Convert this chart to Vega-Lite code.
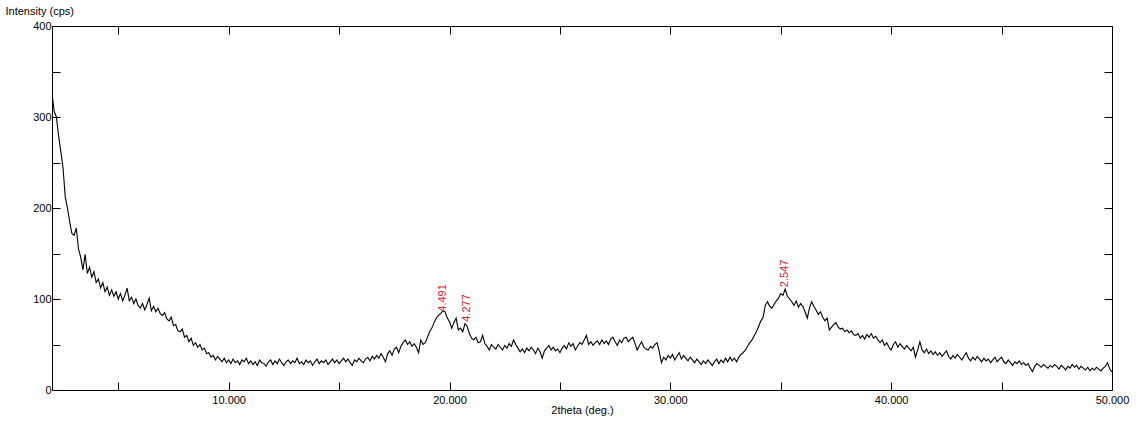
{
"$schema": "https://vega.github.io/schema/vega-lite/v6.json",
"width": 1060, "height": 364,
"autosize": {"type": "none"},
"padding": {"left": 52, "top": 26, "right": 26, "bottom": 33},
"background": "white",
"config": {
  "view": {"stroke": "black", "strokeWidth": 1},
  "axis": {"labelFont": "Liberation Sans", "titleFont": "Liberation Sans", "labelFontSize": 11, "titleFontSize": 11, "labelColor": "black", "titleColor": "black", "titleFontWeight": "normal", "grid": false, "domain": false, "tickColor": "black", "tickWidth": 1, "labelOverlap": false, "labelFlush": false}
},
"datasets": {
"xrd": [
{"t":2.0,"i":326},{"t":2.1,"i":306},{"t":2.2,"i":300},{"t":2.3,"i":279},{"t":2.4,"i":262},{"t":2.5,"i":244},{"t":2.6,"i":212},{"t":2.7,"i":200},{"t":2.8,"i":185},{"t":2.9,"i":172},
{"t":3.0,"i":170},{"t":3.1,"i":178},{"t":3.2,"i":155},{"t":3.3,"i":146},{"t":3.4,"i":132},{"t":3.5,"i":149},{"t":3.6,"i":128},{"t":3.7,"i":135},{"t":3.8,"i":124},{"t":3.9,"i":130},
{"t":4.0,"i":118},{"t":4.1,"i":122},{"t":4.2,"i":112},{"t":4.3,"i":118},{"t":4.4,"i":108},{"t":4.5,"i":113},{"t":4.6,"i":104},{"t":4.7,"i":110},{"t":4.8,"i":103},{"t":4.9,"i":108},
{"t":5.0,"i":100},{"t":5.1,"i":106},{"t":5.2,"i":98},{"t":5.3,"i":104},{"t":5.4,"i":112},{"t":5.5,"i":98},{"t":5.6,"i":102},{"t":5.7,"i":95},{"t":5.8,"i":100},{"t":5.9,"i":93},
{"t":6.0,"i":90},{"t":6.1,"i":95},{"t":6.2,"i":88},{"t":6.3,"i":94},{"t":6.4,"i":101},{"t":6.5,"i":87},{"t":6.6,"i":92},{"t":6.7,"i":86},{"t":6.8,"i":90},{"t":6.9,"i":84},
{"t":7.0,"i":82},{"t":7.1,"i":85},{"t":7.2,"i":78},{"t":7.3,"i":76},{"t":7.4,"i":80},{"t":7.5,"i":71},{"t":7.6,"i":72},{"t":7.7,"i":65},{"t":7.8,"i":64},{"t":7.9,"i":67},
{"t":8.0,"i":58},{"t":8.1,"i":60},{"t":8.2,"i":53},{"t":8.3,"i":57},{"t":8.4,"i":49},{"t":8.5,"i":52},{"t":8.6,"i":47},{"t":8.7,"i":50},{"t":8.8,"i":44},{"t":8.9,"i":46},
{"t":9.0,"i":40},{"t":9.1,"i":41},{"t":9.2,"i":36},{"t":9.3,"i":38},{"t":9.4,"i":33},{"t":9.5,"i":37},{"t":9.6,"i":34},{"t":9.7,"i":31},{"t":9.8,"i":35},{"t":9.9,"i":30},
{"t":10.0,"i":33},{"t":10.1,"i":29},{"t":10.2,"i":34},{"t":10.3,"i":30},{"t":10.4,"i":32},{"t":10.5,"i":28},{"t":10.6,"i":33},{"t":10.7,"i":31},{"t":10.8,"i":35},{"t":10.9,"i":29},
{"t":11.0,"i":32},{"t":11.1,"i":28},{"t":11.2,"i":31},{"t":11.3,"i":27},{"t":11.4,"i":33},{"t":11.5,"i":30},{"t":11.6,"i":29},{"t":11.7,"i":26},{"t":11.8,"i":31},{"t":11.9,"i":33},
{"t":12.0,"i":28},{"t":12.1,"i":32},{"t":12.2,"i":29},{"t":12.3,"i":34},{"t":12.4,"i":30},{"t":12.5,"i":27},{"t":12.6,"i":31},{"t":12.7,"i":33},{"t":12.8,"i":29},{"t":12.9,"i":32},
{"t":13.0,"i":30},{"t":13.1,"i":35},{"t":13.2,"i":29},{"t":13.3,"i":31},{"t":13.4,"i":28},{"t":13.5,"i":33},{"t":13.6,"i":30},{"t":13.7,"i":32},{"t":13.8,"i":27},{"t":13.9,"i":31},
{"t":14.0,"i":34},{"t":14.1,"i":29},{"t":14.2,"i":32},{"t":14.3,"i":30},{"t":14.4,"i":33},{"t":14.5,"i":28},{"t":14.6,"i":31},{"t":14.7,"i":34},{"t":14.8,"i":30},{"t":14.9,"i":33},
{"t":15.0,"i":29},{"t":15.1,"i":32},{"t":15.2,"i":35},{"t":15.3,"i":31},{"t":15.4,"i":34},{"t":15.5,"i":30},{"t":15.6,"i":27},{"t":15.7,"i":33},{"t":15.8,"i":31},{"t":15.9,"i":35},
{"t":16.0,"i":32},{"t":16.1,"i":30},{"t":16.2,"i":34},{"t":16.3,"i":36},{"t":16.4,"i":32},{"t":16.5,"i":37},{"t":16.6,"i":34},{"t":16.7,"i":38},{"t":16.8,"i":35},{"t":16.9,"i":40},
{"t":17.0,"i":36},{"t":17.1,"i":31},{"t":17.2,"i":40},{"t":17.3,"i":43},{"t":17.4,"i":38},{"t":17.5,"i":45},{"t":17.6,"i":47},{"t":17.7,"i":41},{"t":17.8,"i":48},{"t":17.9,"i":52},
{"t":18.0,"i":55},{"t":18.1,"i":50},{"t":18.2,"i":53},{"t":18.3,"i":48},{"t":18.4,"i":51},{"t":18.5,"i":47},{"t":18.6,"i":41},{"t":18.7,"i":55},{"t":18.8,"i":50},{"t":18.9,"i":52},
{"t":19.0,"i":58},{"t":19.1,"i":64},{"t":19.2,"i":68},{"t":19.3,"i":74},{"t":19.4,"i":79},{"t":19.5,"i":82},{"t":19.6,"i":84},{"t":19.7,"i":87},{"t":19.8,"i":86},{"t":19.9,"i":79},
{"t":20.0,"i":75},{"t":20.1,"i":68},{"t":20.2,"i":74},{"t":20.3,"i":79},{"t":20.4,"i":66},{"t":20.5,"i":68},{"t":20.6,"i":64},{"t":20.7,"i":73},{"t":20.8,"i":70},{"t":20.9,"i":62},
{"t":21.0,"i":57},{"t":21.1,"i":55},{"t":21.2,"i":58},{"t":21.3,"i":52},{"t":21.4,"i":53},{"t":21.5,"i":60},{"t":21.6,"i":51},{"t":21.7,"i":48},{"t":21.8,"i":44},{"t":21.9,"i":50},
{"t":22.0,"i":47},{"t":22.1,"i":45},{"t":22.2,"i":50},{"t":22.3,"i":47},{"t":22.4,"i":44},{"t":22.5,"i":49},{"t":22.6,"i":46},{"t":22.7,"i":51},{"t":22.8,"i":48},{"t":22.9,"i":55},
{"t":23.0,"i":50},{"t":23.1,"i":46},{"t":23.2,"i":42},{"t":23.3,"i":45},{"t":23.4,"i":41},{"t":23.5,"i":46},{"t":23.6,"i":43},{"t":23.7,"i":47},{"t":23.8,"i":44},{"t":23.9,"i":40},
{"t":24.0,"i":46},{"t":24.1,"i":42},{"t":24.2,"i":35},{"t":24.3,"i":43},{"t":24.4,"i":46},{"t":24.5,"i":49},{"t":24.6,"i":44},{"t":24.7,"i":47},{"t":24.8,"i":43},{"t":24.9,"i":45},
{"t":25.0,"i":41},{"t":25.1,"i":46},{"t":25.2,"i":49},{"t":25.3,"i":45},{"t":25.4,"i":52},{"t":25.5,"i":48},{"t":25.6,"i":51},{"t":25.7,"i":44},{"t":25.8,"i":48},{"t":25.9,"i":52},
{"t":26.0,"i":50},{"t":26.1,"i":55},{"t":26.2,"i":60},{"t":26.3,"i":50},{"t":26.4,"i":53},{"t":26.5,"i":49},{"t":26.6,"i":52},{"t":26.7,"i":54},{"t":26.8,"i":50},{"t":26.9,"i":55},
{"t":27.0,"i":51},{"t":27.1,"i":54},{"t":27.2,"i":50},{"t":27.3,"i":56},{"t":27.4,"i":58},{"t":27.5,"i":53},{"t":27.6,"i":49},{"t":27.7,"i":55},{"t":27.8,"i":52},{"t":27.9,"i":57},
{"t":28.0,"i":58},{"t":28.1,"i":53},{"t":28.2,"i":56},{"t":28.3,"i":58},{"t":28.4,"i":51},{"t":28.5,"i":44},{"t":28.6,"i":49},{"t":28.7,"i":53},{"t":28.8,"i":47},{"t":28.9,"i":45},
{"t":29.0,"i":44},{"t":29.1,"i":48},{"t":29.2,"i":46},{"t":29.3,"i":50},{"t":29.4,"i":52},{"t":29.5,"i":42},{"t":29.6,"i":30},{"t":29.7,"i":36},{"t":29.8,"i":33},{"t":29.9,"i":38},
{"t":30.0,"i":35},{"t":30.1,"i":39},{"t":30.2,"i":33},{"t":30.3,"i":37},{"t":30.4,"i":41},{"t":30.5,"i":34},{"t":30.6,"i":38},{"t":30.7,"i":35},{"t":30.8,"i":32},{"t":30.9,"i":36},
{"t":31.0,"i":33},{"t":31.1,"i":30},{"t":31.2,"i":34},{"t":31.3,"i":31},{"t":31.4,"i":28},{"t":31.5,"i":32},{"t":31.6,"i":29},{"t":31.7,"i":33},{"t":31.8,"i":30},{"t":31.9,"i":27},
{"t":32.0,"i":31},{"t":32.1,"i":34},{"t":32.2,"i":29},{"t":32.3,"i":33},{"t":32.4,"i":30},{"t":32.5,"i":35},{"t":32.6,"i":31},{"t":32.7,"i":36},{"t":32.8,"i":32},{"t":32.9,"i":35},
{"t":33.0,"i":31},{"t":33.1,"i":36},{"t":33.2,"i":39},{"t":33.3,"i":41},{"t":33.4,"i":44},{"t":33.5,"i":48},{"t":33.6,"i":52},{"t":33.7,"i":55},{"t":33.8,"i":60},{"t":33.9,"i":64},
{"t":34.0,"i":70},{"t":34.1,"i":76},{"t":34.2,"i":80},{"t":34.3,"i":93},{"t":34.4,"i":97},{"t":34.5,"i":92},{"t":34.6,"i":90},{"t":34.7,"i":94},{"t":34.8,"i":98},{"t":34.9,"i":101},
{"t":35.0,"i":106},{"t":35.1,"i":104},{"t":35.2,"i":111},{"t":35.3,"i":103},{"t":35.4,"i":100},{"t":35.5,"i":97},{"t":35.6,"i":93},{"t":35.7,"i":98},{"t":35.8,"i":91},{"t":35.9,"i":95},
{"t":36.0,"i":92},{"t":36.1,"i":86},{"t":36.2,"i":79},{"t":36.3,"i":90},{"t":36.4,"i":97},{"t":36.5,"i":92},{"t":36.6,"i":88},{"t":36.7,"i":83},{"t":36.8,"i":86},{"t":36.9,"i":80},
{"t":37.0,"i":76},{"t":37.1,"i":79},{"t":37.2,"i":66},{"t":37.3,"i":69},{"t":37.4,"i":72},{"t":37.5,"i":74},{"t":37.6,"i":69},{"t":37.7,"i":67},{"t":37.8,"i":68},{"t":37.9,"i":64},
{"t":38.0,"i":66},{"t":38.1,"i":63},{"t":38.2,"i":65},{"t":38.3,"i":61},{"t":38.4,"i":60},{"t":38.5,"i":62},{"t":38.6,"i":57},{"t":38.7,"i":60},{"t":38.8,"i":56},{"t":38.9,"i":61},
{"t":39.0,"i":58},{"t":39.1,"i":62},{"t":39.2,"i":57},{"t":39.3,"i":59},{"t":39.4,"i":55},{"t":39.5,"i":52},{"t":39.6,"i":55},{"t":39.7,"i":49},{"t":39.8,"i":52},{"t":39.9,"i":47},
{"t":40.0,"i":44},{"t":40.1,"i":50},{"t":40.2,"i":53},{"t":40.3,"i":47},{"t":40.4,"i":51},{"t":40.5,"i":48},{"t":40.6,"i":45},{"t":40.7,"i":49},{"t":40.8,"i":46},{"t":40.9,"i":43},
{"t":41.0,"i":47},{"t":41.1,"i":36},{"t":41.2,"i":44},{"t":41.3,"i":53},{"t":41.4,"i":44},{"t":41.5,"i":41},{"t":41.6,"i":45},{"t":41.7,"i":40},{"t":41.8,"i":43},{"t":41.9,"i":39},
{"t":42.0,"i":42},{"t":42.1,"i":38},{"t":42.2,"i":41},{"t":42.3,"i":37},{"t":42.4,"i":40},{"t":42.5,"i":43},{"t":42.6,"i":37},{"t":42.7,"i":34},{"t":42.8,"i":38},{"t":42.9,"i":35},
{"t":43.0,"i":39},{"t":43.1,"i":36},{"t":43.2,"i":33},{"t":43.3,"i":37},{"t":43.4,"i":41},{"t":43.5,"i":35},{"t":43.6,"i":32},{"t":43.7,"i":36},{"t":43.8,"i":33},{"t":43.9,"i":37},
{"t":44.0,"i":34},{"t":44.1,"i":31},{"t":44.2,"i":35},{"t":44.3,"i":32},{"t":44.4,"i":34},{"t":44.5,"i":30},{"t":44.6,"i":33},{"t":44.7,"i":36},{"t":44.8,"i":31},{"t":44.9,"i":34},
{"t":45.0,"i":36},{"t":45.1,"i":31},{"t":45.2,"i":29},{"t":45.3,"i":33},{"t":45.4,"i":30},{"t":45.5,"i":27},{"t":45.6,"i":31},{"t":45.7,"i":29},{"t":45.8,"i":32},{"t":45.9,"i":28},
{"t":46.0,"i":30},{"t":46.1,"i":27},{"t":46.2,"i":29},{"t":46.3,"i":24},{"t":46.4,"i":20},{"t":46.5,"i":26},{"t":46.6,"i":29},{"t":46.7,"i":27},{"t":46.8,"i":25},{"t":46.9,"i":28},
{"t":47.0,"i":26},{"t":47.1,"i":24},{"t":47.2,"i":27},{"t":47.3,"i":25},{"t":47.4,"i":28},{"t":47.5,"i":26},{"t":47.6,"i":23},{"t":47.7,"i":27},{"t":47.8,"i":25},{"t":47.9,"i":22},
{"t":48.0,"i":26},{"t":48.1,"i":24},{"t":48.2,"i":28},{"t":48.3,"i":25},{"t":48.4,"i":27},{"t":48.5,"i":23},{"t":48.6,"i":26},{"t":48.7,"i":24},{"t":48.8,"i":22},{"t":48.9,"i":25},
{"t":49.0,"i":21},{"t":49.1,"i":24},{"t":49.2,"i":22},{"t":49.3,"i":25},{"t":49.4,"i":23},{"t":49.5,"i":21},{"t":49.6,"i":24},{"t":49.7,"i":26},{"t":49.8,"i":30},{"t":49.9,"i":23},
{"t":50.0,"i":20}
],
"peaks": [
{"t":19.69,"i":86,"d":"4.491"},
{"t":20.78,"i":75,"d":"4.277"},
{"t":35.17,"i":113,"d":"2.547"}
]
},
"layer": [
{
  "data": {"name": "xrd"},
  "mark": {"type": "line", "color": "black", "strokeWidth": 1.1, "clip": true},
  "encoding": {
    "x": {"field": "t", "type": "quantitative", "scale": {"domain": [2, 50], "nice": false, "zero": false},
      "axis": {"orient": "bottom", "values": [5,10,15,20,25,30,35,40,45,50], "labelExpr": "datum.value % 10 == 0 ? format(datum.value, '.3f') : ''", "tickSize": -8, "labelPadding": 12, "title": "2theta (deg.)", "titlePadding": -1}},
    "y": {"field": "i", "type": "quantitative", "scale": {"domain": [0, 400], "nice": false, "zero": true},
      "axis": {"orient": "left", "values": [0,50,100,150,200,250,300,350,400], "labelExpr": "datum.value % 100 == 0 ? datum.value : ''", "tickSize": -8, "labelPadding": 9, "title": "Intensity (cps)", "titleAngle": 0, "titleAlign": "left", "titleBaseline": "middle", "titleX": -47, "titleY": -15}}
  }
},
{
  "data": {"name": "peaks"},
  "mark": {"type": "text", "angle": 270, "align": "left", "baseline": "middle", "color": "#E0202E", "font": "Liberation Sans", "fontSize": 11},
  "encoding": {
    "x": {"field": "t", "type": "quantitative", "axis": {"orient": "top", "values": [5,10,15,20,25,30,35,40,45,50], "labels": false, "tickSize": -8, "title": null}},
    "y": {"field": "i", "type": "quantitative", "axis": {"orient": "right", "values": [0,50,100,150,200,250,300,350,400], "labels": false, "tickSize": -8, "title": null}},
    "text": {"field": "d"}
  }
}
],
"resolve": {"axis": {"x": "independent", "y": "independent"}}
}
